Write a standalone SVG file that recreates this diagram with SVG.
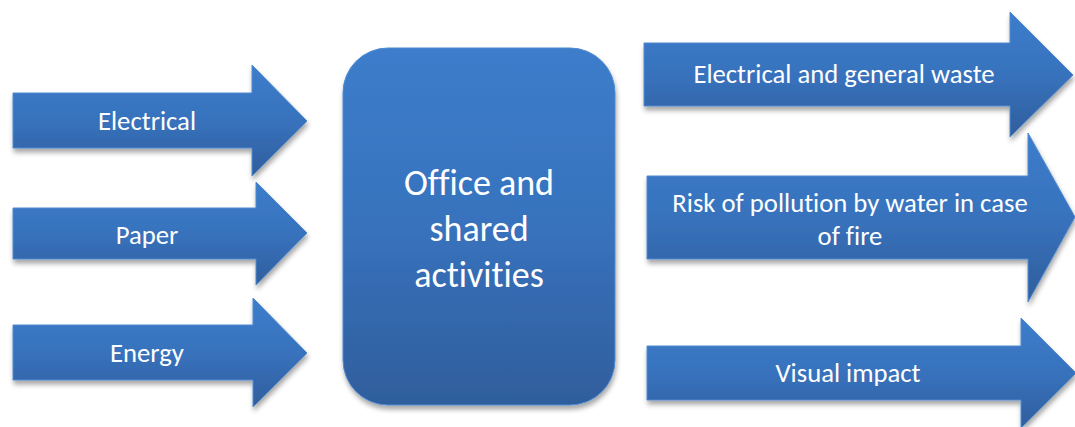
<svg xmlns="http://www.w3.org/2000/svg" width="1075" height="427" viewBox="0 0 1075 427">
<style>
.shape{fill:url(#g);stroke:#4f8ad0;stroke-width:1;filter:url(#sh)}
.lbl{font-family:Carlito,Calibri,Lato,"Liberation Sans",sans-serif;fill:#ffffff;text-anchor:middle;font-size:26.7px;font-variant-ligatures:none}
.big{font-size:36px}
</style>
<defs>
<linearGradient id="g" x1="0" y1="0" x2="0" y2="1">
<stop offset="0" stop-color="#3c7dcb"/>
<stop offset="0.5" stop-color="#3872bd"/>
<stop offset="1" stop-color="#2f5e9c"/>
</linearGradient>
<filter id="sh" x="-10%" y="-10%" width="130%" height="130%">
<feDropShadow dx="1" dy="4" stdDeviation="2.5" flood-color="#000" flood-opacity="0.35"/>
</filter>
</defs>
<rect width="1075" height="427" fill="#ffffff"/>
<g id="connectors"></g>
<g id="in-electrical">
<polygon class="shape" points="13,93 252,93 252,65 307,121 252,176 252,148 13,148"/>
<text class="lbl" x="147" y="130">Electrical</text>
</g>
<g id="in-paper">
<polygon class="shape" points="13,208 256,208 256,182 307,233 256,285 256,259 13,259"/>
<text class="lbl" x="147" y="244">Paper</text>
</g>
<g id="in-energy">
<polygon class="shape" points="13,325 253,325 253,298 307,353 253,407 253,380 13,380"/>
<text class="lbl" x="147" y="362">Energy</text>
</g>
<g id="center">
<rect class="shape" x="343" y="48" width="272" height="357" rx="45" ry="45"/>
<text class="lbl big" x="479" y="195">Office and</text>
<text class="lbl big" x="479" y="241">shared</text>
<text class="lbl big" x="479" y="287">activities</text>
</g>
<g id="out-waste">
<polygon class="shape" points="644,43 1010,43 1010,12 1073,75 1010,137 1010,106 644,106"/>
<text class="lbl" x="844" y="83">Electrical and general waste</text>
</g>
<g id="out-pollution">
<polygon class="shape" points="647,176 1028,176 1028,133 1075,217 1028,302 1028,259 647,259"/>
<text class="lbl" x="850" y="212">Risk of pollution by water in case</text>
<text class="lbl" x="850" y="245">of fire</text>
</g>
<g id="out-visual">
<polygon class="shape" points="647,346 1021,346 1021,318 1076,373 1021,428 1021,400 647,400"/>
<text class="lbl" x="848" y="382">Visual impact</text>
</g>
</svg>
